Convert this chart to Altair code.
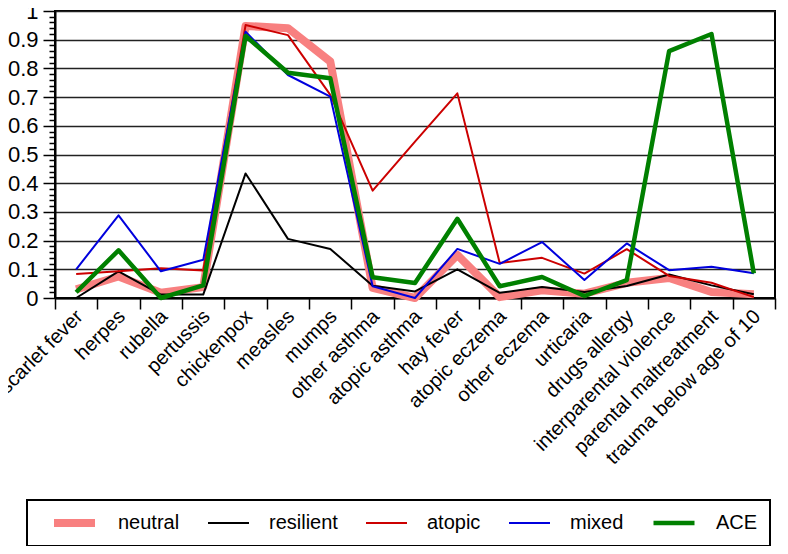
import altair as alt
import pandas as pd

categories = ["scarlet fever", "herpes", "rubella", "pertussis", "chickenpox", "measles",
              "mumps", "other asthma", "atopic asthma", "hay fever", "atopic eczema",
              "other eczema", "urticaria", "drugs allergy", "interparental violence",
              "parental maltreatment", "trauma below age of 10"]

series_names = ["neutral", "resilient", "atopic", "mixed", "ACE"]

neutral = [0.030, 0.075, 0.018, 0.038, 0.948, 0.940, 0.824, 0.035, 0.000, 0.150, 0.003,
           0.027, 0.015, 0.053, 0.070, 0.021, 0.013]
resilient = [0.000, 0.093, 0.012, 0.012, 0.434, 0.206, 0.171, 0.043, 0.023, 0.100, 0.018,
             0.038, 0.021, 0.042, 0.082, 0.044, 0.013]
atopic = [0.084, 0.093, 0.104, 0.096, 0.951, 0.916, 0.708, 0.374, 0.545, 0.713, 0.122,
          0.140, 0.085, 0.170, 0.077, 0.053, 0.003]
mixed = [0.100, 0.288, 0.093, 0.133, 0.928, 0.777, 0.702, 0.041, 0.000, 0.171, 0.119,
         0.195, 0.063, 0.190, 0.097, 0.109, 0.086]
ace = [0.020, 0.166, 0.000, 0.044, 0.913, 0.785, 0.766, 0.072, 0.052, 0.276, 0.041,
       0.073, 0.007, 0.062, 0.860, 0.920, 0.086]

colors = ["#F88080", "#000000", "#CC0000", "#0000DD", "#008000"]
widths = [8, 2, 2, 2, 4.5]

y_ticks = [round(i * 0.02, 2) for i in range(51)]

rows = []
for name, vals in zip(series_names, [neutral, resilient, atopic, mixed, ace]):
    for c, v in zip(categories, vals):
        rows.append({"item": c, "group": name, "value": v})
df = pd.DataFrame(rows)

FONT = "Liberation Sans"
major = "abs(datum.value*10 - round(datum.value*10)) < 0.001"

legend_args = dict(
    orient="none", legendX=-28, legendY=489, direction="horizontal",
    title="\u00a0", titleOrient="left", titleFontSize=20, titlePadding=11,
    padding=12, strokeColor="black", fillColor="white", clipHeight=22,
    labelFont=FONT, labelFontSize=20, labelColor="black", labelOffset=19,
    labelExpr="datum.label == 'ACE' ? 'ACE\u00a0\u00a0\u00a0' : datum.label",
    columnPadding=27, symbolSize=1681, symbolType="stroke",
)

chart = alt.Chart(df).mark_line(strokeJoin="round").encode(
    x=alt.X("item:N", sort=categories,
            scale=alt.Scale(type="band", paddingInner=0, paddingOuter=0),
            axis=alt.Axis(title="", tickBand="extent", tickSize=11, tickWidth=1.5,
                          tickColor="black", labelAngle=-45, labelFontSize=20,
                          labelFont=FONT, labelColor="black", labelPadding=4,
                          labelOffset=3,
                          labelAlign="right", labelBaseline="middle",
                          domainColor="black", domainWidth=2, grid=False, labelLimit=400)),
    y=alt.Y("value:Q", scale=alt.Scale(domain=[0, 1], nice=False),
            axis=alt.Axis(title="", values=y_ticks,
                          labelExpr=f"({major}) ? format(datum.value, '~g') : ''",
                          tickSize={"condition": {"test": major, "value": 12}, "value": 6},
                          gridOpacity={"condition": {"test": major, "value": 1}, "value": 0},
                          grid=True, gridColor="#222222", gridWidth=1.6,
                          tickColor="black", tickWidth=1.5, domainColor="black",
                          domainWidth=2, labelFont=FONT, labelFontSize=22,
                          labelColor="black", labelPadding=5, labelFlush=False,
                          labelOverlap=False)),
    color=alt.Color("group:N", sort=series_names,
                    scale=alt.Scale(domain=series_names, range=colors),
                    legend=alt.Legend(**legend_args)),
    strokeWidth=alt.StrokeWidth("group:N", sort=series_names,
                                scale=alt.Scale(type="ordinal", domain=series_names, range=widths),
                                legend=alt.Legend(**legend_args)),
).properties(
    width=720, height=287,
    autosize=alt.AutoSizeParams(type="none"),
    padding={"left": 47, "top": 3, "right": 5, "bottom": 248},
).configure_view(stroke="black", strokeWidth=2).configure_legend(strokeWidth=2)

chart.save("out.html", embed_options={"renderer": "svg", "actions": False})
